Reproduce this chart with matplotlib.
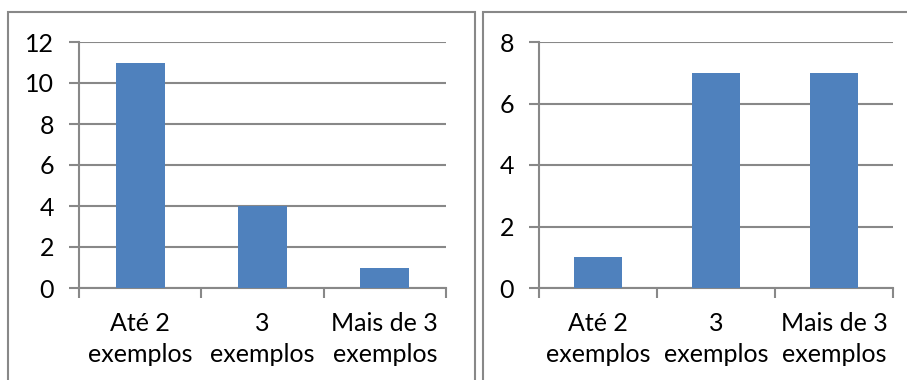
import matplotlib
matplotlib.use("Agg")
import matplotlib.pyplot as plt
from matplotlib.patches import Rectangle

categories = ["Até 2\nexemplos", "3\nexemplos", "Mais de 3\nexemplos"]
values_left = [11, 4, 1]
values_right = [1, 7, 7]
yticks_left = [0, 2, 4, 6, 8, 10, 12]
yticks_right = [0, 2, 4, 6, 8]

BAR = "#4F81BD"
GRID = "#888888"
W, H = 907, 380
FS = 18

plt.rcParams["font.family"] = ["Lato", "DejaVu Sans"]

fig = plt.figure(figsize=(W / 100, H / 100), dpi=100)


def px_axes(x0, x1, ytop, ybot):
    return fig.add_axes([x0 / W, 1 - ybot / H, (x1 - x0) / W, (ybot - ytop) / H])


def frame(x0, x1, ytop, ybot):
    fig.patches.append(Rectangle((x0 / W, 1 - ybot / H), (x1 - x0) / W, (ybot - ytop) / H,
                                 transform=fig.transFigure, fill=False,
                                 edgecolor=GRID, linewidth=1.5))


def draw(ax, values, yticks):
    x = list(range(len(categories)))
    ax.bar(x, values, width=0.4, color=BAR, zorder=3)
    ax.set_xlim(-0.5, len(categories) - 0.5)
    ax.set_ylim(yticks[0], yticks[-1])
    ax.set_yticks(yticks)
    ax.yaxis.grid(True, color=GRID, linewidth=1.5, zorder=0)
    ax.set_axisbelow(True)
    for s in ("top", "right"):
        ax.spines[s].set_visible(False)
    for s in ("left", "bottom"):
        ax.spines[s].set_color(GRID)
        ax.spines[s].set_linewidth(1.5)
    ax.tick_params(axis="y", length=7, width=1.5, color=GRID, labelsize=FS, pad=11,
                   direction="out")
    # category boundary ticks on the x axis
    ax.set_xticks([i - 0.5 for i in range(len(categories) + 1)])
    ax.set_xticklabels([])
    ax.set_xticks(x, minor=True)
    ax.set_xticklabels(categories, minor=True, fontsize=FS, linespacing=1.45)
    ax.tick_params(axis="x", which="major", length=7, width=1.5, color=GRID, direction="out")
    ax.tick_params(axis="x", which="minor", length=0, pad=17)
    for lab in ax.get_xticklabels(minor=True):
        lab.set_horizontalalignment("center")


frame(8, 475, 12, 400)
frame(483, 930, 12, 400)

ax1 = px_axes(79, 446, 42, 288)
draw(ax1, values_left, yticks_left)

ax2 = px_axes(539, 893, 42, 288)
draw(ax2, values_right, yticks_right)

fig.savefig("out.png", dpi=100)
